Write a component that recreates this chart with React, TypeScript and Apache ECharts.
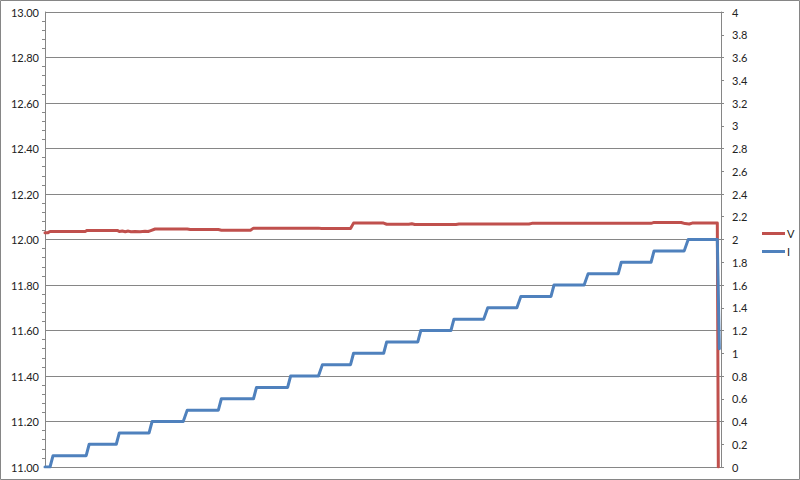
import React, { useEffect, useRef } from "react";
import * as echarts from "echarts";

// Time (sample index) of each vertex and the measured values
const timeV = [0, 0.9, 1.5, 12.0, 12.6, 21.6, 22.2, 23.1, 24.0, 24.9, 25.7, 26.9, 28.4, 29.9, 30.8, 31.4, 32.9, 42.5, 43.4, 51.8, 52.7, 61.4, 62.3, 81.7, 82.6, 91.3, 92.2, 101.2, 102.1, 108.7, 109.6, 110.5, 122.8, 123.7, 144.6, 145.5, 181.1, 182.0, 190.1, 191.3, 192.5, 193.4, 200.9, 201.2];
const voltageV = [12.03, 12.03, 12.035, 12.035, 12.04, 12.04, 12.035, 12.037, 12.034, 12.037, 12.034, 12.035, 12.034, 12.036, 12.035, 12.038, 12.046, 12.046, 12.044, 12.044, 12.041, 12.041, 12.05, 12.05, 12.048, 12.048, 12.072, 12.072, 12.067, 12.067, 12.069, 12.066, 12.066, 12.068, 12.068, 12.071, 12.071, 12.075, 12.075, 12.07, 12.068, 12.072, 12.072, 11.0];

const timeI = [0, 1.5, 2.4, 12.3, 13.2, 21.3, 22.2, 31.1, 32.0, 41.3, 42.5, 51.8, 52.7, 62.3, 63.2, 72.5, 73.4, 81.7, 82.9, 91.3, 92.2, 101.2, 102.1, 111.4, 112.3, 121.3, 122.2, 131.1, 132.3, 141.0, 142.2, 151.2, 152.1, 161.1, 162.3, 171.3, 172.2, 181.1, 182.0, 191.0, 192.2, 200.9, 201.5];
const currentI = [0, 0, 0.1, 0.1, 0.2, 0.2, 0.3, 0.3, 0.4, 0.4, 0.5, 0.5, 0.6, 0.6, 0.7, 0.7, 0.8, 0.8, 0.9, 0.9, 1.0, 1.0, 1.1, 1.1, 1.2, 1.2, 1.3, 1.3, 1.4, 1.4, 1.5, 1.5, 1.6, 1.6, 1.7, 1.7, 1.8, 1.8, 1.9, 1.9, 2.0, 2.0, 1.04];

const seriesNames = ["V", "I"];

export default function App() {
  const ref = useRef<HTMLDivElement>(null);
  useEffect(() => {
    document.body.style.margin = "0";
    const chart = echarts.init(ref.current!, null, { renderer: "svg" });
    const gray = "#868686";
    const font = "Lato, 'Open Sans', sans-serif";
    chart.setOption({
      animation: false,
      backgroundColor: "#ffffff",
      grid: { left: 45, right: 79, top: 12, bottom: 13 },
      graphic: [
        {
          type: "rect",
          shape: { x: 0.5, y: 0.5, width: 799, height: 479 },
          style: { fill: "none", stroke: gray, lineWidth: 1 },
          silent: true,
        },
      ],
      legend: {
        orient: "vertical",
        left: 757,
        top: 223,
        icon: "rect",
        itemWidth: 23,
        itemHeight: 3,
        itemGap: 7,
        data: seriesNames,
        textStyle: { fontFamily: font, fontSize: 11, color: "#222", padding: [0, 0, 0, -3] },
      },
      xAxis: {
        type: "value",
        min: 0,
        max: 202,
        axisLine: { show: true, onZero: false, lineStyle: { color: gray } },
        axisTick: { show: false },
        axisLabel: { show: false },
        splitLine: { show: false },
      },
      yAxis: [
        {
          type: "value",
          min: 11,
          max: 13,
          interval: 0.2,
          position: "left",
          axisLine: { show: true, lineStyle: { color: gray } },
          axisTick: { show: false },
          minorTick: { show: true, splitNumber: 5, length: 3, lineStyle: { color: gray } },
          axisLabel: {
            margin: 6,
            fontFamily: font,
            fontSize: 11,
            color: "#222",
            formatter: (v: number) => v.toFixed(2),
          },
          splitLine: { show: true, lineStyle: { color: gray, width: 1 } },
        },
        {
          type: "value",
          min: 0,
          max: 4,
          interval: 0.2,
          position: "right",
          axisLine: { show: true, lineStyle: { color: gray } },
          axisTick: { show: true, length: 3, lineStyle: { color: gray } },
          axisLabel: {
            margin: 11,
            fontFamily: font,
            fontSize: 11,
            color: "#222",
            formatter: (v: number) => String(Math.round(v * 10) / 10),
          },
          splitLine: { show: false },
        },
      ],
      series: [
        {
          name: seriesNames[0],
          type: "line",
          yAxisIndex: 0,
          showSymbol: false,
          symbol: "none",
          color: "#C0504D",
          lineStyle: { width: 3, color: "#C0504D", join: "round", cap: "round" },
          data: timeV.map((t, i) => [t, voltageV[i]]),
        },
        {
          name: seriesNames[1],
          type: "line",
          yAxisIndex: 1,
          showSymbol: false,
          symbol: "none",
          color: "#4F81BD",
          lineStyle: { width: 3, color: "#4F81BD", join: "round", cap: "round" },
          data: timeI.map((t, i) => [t, currentI[i]]),
        },
      ],
    });
    return () => chart.dispose();
  }, []);
  return <div ref={ref} style={{ width: 800, height: 480 }} />;
}
